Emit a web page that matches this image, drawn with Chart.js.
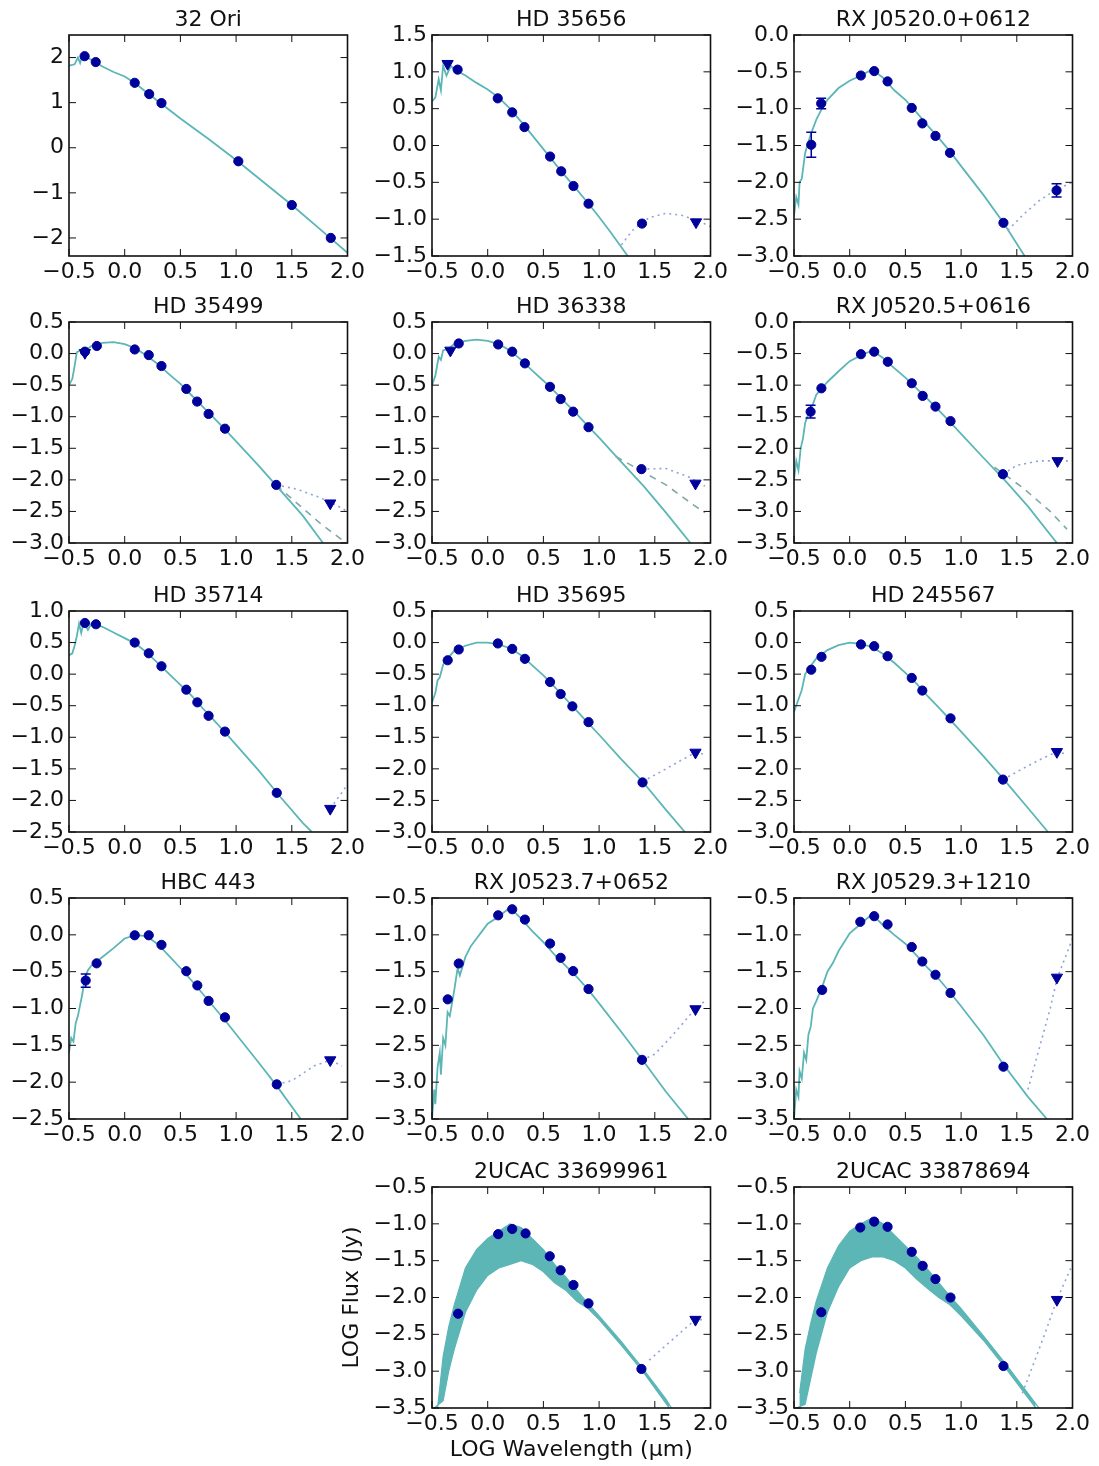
<!DOCTYPE html>
<html>
<head>
<meta charset="utf-8">
<script src="https://cdn.jsdelivr.net/npm/chart.js@4.4.1/dist/chart.umd.min.js"></script>
<style>
  body { margin: 0; background: #fff; }
  #fig { position: relative; width: 1099px; height: 1466px; overflow: hidden; }
  #fig canvas { position: absolute; }
</style>
</head>
<body>
<div id="fig"></div>
<script>
// one entry per panel (log wavelength in um, log flux in Jy)
const titles = ['32 Ori', 'HD 35656', 'RX J0520.0+0612', 'HD 35499', 'HD 36338', 'RX J0520.5+0616',
  'HD 35714', 'HD 35695', 'HD 245567', 'HBC 443', 'RX J0523.7+0652', 'RX J0529.3+1210',
  '2UCAC 33699961', '2UCAC 33878694'];

const xRange = [-0.5, 2.0];
const yRanges = [[-2.4, 2.5], [-1.5, 1.5], [-3.0, 0.0], [-3.0, 0.5], [-3.0, 0.5], [-3.5, 0.0],
  [-2.5, 1.0], [-3.0, 0.5], [-3.0, 0.5], [-2.5, 0.5], [-3.5, -0.5], [-3.5, -0.5], [-3.5, -0.5], [-3.5, -0.5]];
const yStep = [1, 0.5, 0.5, 0.5, 0.5, 0.5, 0.5, 0.5, 0.5, 0.5, 0.5, 0.5, 0.5, 0.5];

const photometry = [
  [[-0.36, 2.03], [-0.26, 1.90], [0.09, 1.44], [0.22, 1.19], [0.33, 0.99], [1.02, -0.30], [1.50, -1.27], [1.85, -2.0]],
  [[-0.27, 1.03], [0.09, 0.64], [0.22, 0.45], [0.33, 0.25], [0.56, -0.15], [0.66, -0.35], [0.77, -0.55], [0.905, -0.79], [1.385, -1.06]],
  [[-0.345, -1.49], [-0.256, -0.93], [0.10, -0.55], [0.22, -0.49], [0.34, -0.63], [0.557, -0.99], [0.652, -1.20], [0.77, -1.37], [0.90, -1.60], [1.38, -2.55], [1.857, -2.11]],
  [[-0.357, 0.03], [-0.25, 0.12], [0.09, 0.065], [0.216, -0.024], [0.33, -0.197], [0.553, -0.56], [0.65, -0.76], [0.753, -0.956], [0.90, -1.19], [1.36, -2.08]],
  [[-0.26, 0.16], [0.094, 0.144], [0.22, 0.03], [0.334, -0.155], [0.559, -0.527], [0.655, -0.72], [0.767, -0.92], [0.905, -1.166], [1.38, -1.83]],
  [[-0.351, -1.42], [-0.254, -1.05], [0.101, -0.51], [0.22, -0.47], [0.342, -0.63], [0.557, -0.97], [0.655, -1.17], [0.77, -1.34], [0.905, -1.57], [1.375, -2.41]],
  [[-0.357, 0.81], [-0.258, 0.79], [0.09, 0.50], [0.216, 0.33], [0.33, 0.125], [0.553, -0.246], [0.652, -0.447], [0.753, -0.66], [0.90, -0.91], [1.365, -1.88]],
  [[-0.359, -0.28], [-0.26, -0.11], [0.091, -0.014], [0.22, -0.10], [0.334, -0.258], [0.56, -0.624], [0.655, -0.815], [0.76, -1.01], [0.905, -1.26], [1.39, -2.215]],
  [[-0.345, -0.43], [-0.253, -0.226], [0.101, -0.03], [0.22, -0.057], [0.34, -0.216], [0.557, -0.56], [0.652, -0.76], [0.905, -1.2], [1.375, -2.17]],
  [[-0.35, -0.62], [-0.252, -0.387], [0.09, -0.006], [0.216, -0.006], [0.33, -0.136], [0.553, -0.494], [0.652, -0.687], [0.753, -0.897], [0.90, -1.12], [1.365, -2.03]],
  [[-0.359, -1.876], [-0.26, -1.389], [0.094, -0.735], [0.22, -0.653], [0.334, -0.793], [0.56, -1.118], [0.655, -1.312], [0.767, -1.492], [0.905, -1.736], [1.385, -2.697]],
  [[-0.247, -1.748], [0.095, -0.823], [0.22, -0.747], [0.34, -0.859], [0.557, -1.165], [0.652, -1.362], [0.77, -1.542], [0.905, -1.789], [1.38, -2.79]],
  [[-0.266, -2.22], [0.094, -1.14], [0.22, -1.07], [0.34, -1.13], [0.557, -1.44], [0.655, -1.63], [0.77, -1.83], [0.905, -2.08], [1.38, -2.97]],
  [[-0.255, -2.2], [0.095, -1.05], [0.22, -0.97], [0.34, -1.04], [0.557, -1.38], [0.655, -1.57], [0.77, -1.75], [0.905, -2.0], [1.38, -2.93]]
];

const upperLimits = [
  [],
  [[-0.36, 1.11], [1.87, -1.04]],
  [],
  [[-0.357, 0.013], [1.845, -2.37]],
  [[-0.335, 0.05], [1.865, -2.056]],
  [[1.866, -2.2]],
  [[1.845, -2.13]],
  [[1.865, -1.74]],
  [[1.86, -1.73]],
  [[1.845, -1.70]],
  [[1.865, -2.007]],
  [[1.86, -1.578]],
  [[1.865, -2.3]],
  [[1.86, -2.03]]
];

// [x, y, half-length]
const errorBars = [[], [], [[-0.345, -1.49, 0.17], [-0.256, -0.93, 0.07], [1.857, -2.11, 0.09]], [], [],
  [[-0.351, -1.42, 0.1]], [], [], [], [[-0.35, -0.62, 0.09]], [], [], [], []];

const photosphere = [
  [[-0.5, 1.82], [-0.45, 1.85], [-0.42, 2.0], [-0.4, 1.88], [-0.38, 2.05], [-0.3, 1.95], [-0.2, 1.8], [-0.1, 1.68], [0, 1.58], [0.1, 1.42], [0.2, 1.22], [0.3, 1.03], [0.5, 0.65], [0.75, 0.2], [1.0, -0.27], [1.25, -0.77], [1.5, -1.27], [1.75, -1.8], [2.0, -2.33]],
  [[-0.5, 0.6], [-0.47, 0.65], [-0.44, 0.9], [-0.42, 0.75], [-0.4, 1.08], [-0.37, 0.95], [-0.33, 1.08], [-0.3, 1.03], [-0.2, 0.95], [-0.1, 0.85], [0, 0.76], [0.1, 0.65], [0.2, 0.5], [0.33, 0.27], [0.5, -0.05], [0.65, -0.33], [0.8, -0.6], [0.9, -0.78], [1.0, -0.97], [1.1, -1.17], [1.257, -1.5]],
  [[-0.5, -2.45], [-0.48, -2.2], [-0.46, -2.3], [-0.45, -2.0], [-0.43, -1.95], [-0.4, -1.6], [-0.37, -1.45], [-0.35, -1.35], [-0.3, -1.15], [-0.25, -1.0], [-0.2, -0.88], [-0.1, -0.72], [0, -0.62], [0.1, -0.55], [0.2, -0.47], [0.3, -0.58], [0.4, -0.75], [0.5, -0.88], [0.6, -1.05], [0.7, -1.23], [0.8, -1.4], [0.9, -1.58], [1.0, -1.78], [1.2, -2.17], [1.38, -2.55], [1.57, -3.0]],
  [[-0.5, -0.5], [-0.47, -0.4], [-0.45, -0.2], [-0.43, 0.02], [-0.4, 0.05], [-0.35, 0.05], [-0.3, 0.12], [-0.2, 0.17], [-0.1, 0.18], [0, 0.15], [0.1, 0.08], [0.2, -0.04], [0.3, -0.17], [0.4, -0.33], [0.5, -0.48], [0.6, -0.66], [0.7, -0.84], [0.8, -1.02], [0.9, -1.2], [1.0, -1.39], [1.2, -1.77], [1.4, -2.17], [1.6, -2.57], [1.78, -3.0]],
  [[-0.5, -0.5], [-0.47, -0.35], [-0.44, -0.05], [-0.42, -0.1], [-0.4, 0.05], [-0.35, 0.08], [-0.3, 0.15], [-0.2, 0.2], [-0.1, 0.22], [0, 0.2], [0.1, 0.15], [0.2, 0.05], [0.3, -0.1], [0.4, -0.27], [0.5, -0.43], [0.6, -0.6], [0.7, -0.78], [0.8, -0.96], [0.9, -1.15], [1.0, -1.33], [1.2, -1.72], [1.4, -2.1], [1.6, -2.52], [1.82, -3.0]],
  [[-0.5, -2.5], [-0.48, -2.2], [-0.46, -2.35], [-0.44, -2.0], [-0.42, -1.85], [-0.4, -1.6], [-0.37, -1.45], [-0.33, -1.3], [-0.3, -1.15], [-0.25, -1.05], [-0.2, -0.95], [-0.1, -0.78], [0, -0.62], [0.1, -0.53], [0.2, -0.45], [0.3, -0.57], [0.4, -0.73], [0.5, -0.88], [0.6, -1.05], [0.7, -1.22], [0.8, -1.4], [0.9, -1.58], [1.0, -1.77], [1.2, -2.15], [1.4, -2.52], [1.6, -2.92], [1.86, -3.5]],
  [[-0.5, 0.3], [-0.47, 0.33], [-0.45, 0.45], [-0.43, 0.6], [-0.41, 0.8], [-0.39, 0.65], [-0.37, 0.82], [-0.33, 0.7], [-0.3, 0.8], [-0.2, 0.75], [-0.1, 0.66], [0, 0.57], [0.1, 0.48], [0.2, 0.34], [0.3, 0.17], [0.4, 0.0], [0.5, -0.17], [0.6, -0.34], [0.7, -0.54], [0.8, -0.73], [0.9, -0.92], [1.0, -1.12], [1.2, -1.52], [1.4, -1.95], [1.6, -2.36], [1.68, -2.5]],
  [[-0.5, -0.95], [-0.47, -0.8], [-0.45, -0.6], [-0.43, -0.55], [-0.4, -0.35], [-0.37, -0.27], [-0.3, -0.13], [-0.2, -0.05], [-0.1, 0.0], [0, 0.0], [0.1, -0.03], [0.2, -0.09], [0.3, -0.2], [0.4, -0.36], [0.5, -0.52], [0.6, -0.7], [0.7, -0.89], [0.8, -1.08], [0.9, -1.27], [1.0, -1.46], [1.2, -1.85], [1.39, -2.2], [1.6, -2.65], [1.77, -3.0]],
  [[-0.5, -1.1], [-0.48, -1.0], [-0.45, -0.85], [-0.43, -0.75], [-0.4, -0.5], [-0.35, -0.37], [-0.3, -0.25], [-0.2, -0.12], [-0.1, -0.04], [0, 0.0], [0.1, -0.02], [0.2, -0.07], [0.3, -0.18], [0.4, -0.32], [0.5, -0.48], [0.6, -0.65], [0.7, -0.85], [0.8, -1.03], [0.9, -1.22], [1.0, -1.41], [1.2, -1.8], [1.375, -2.15], [1.6, -2.62], [1.78, -3.0]],
  [[-0.5, -1.6], [-0.48, -1.4], [-0.46, -1.45], [-0.44, -1.2], [-0.42, -1.1], [-0.4, -0.95], [-0.38, -0.8], [-0.36, -0.6], [-0.33, -0.48], [-0.3, -0.42], [-0.2, -0.3], [-0.1, -0.18], [0, -0.05], [0.1, 0.0], [0.2, -0.02], [0.3, -0.13], [0.4, -0.29], [0.5, -0.45], [0.6, -0.62], [0.7, -0.8], [0.8, -0.98], [0.9, -1.16], [1.0, -1.35], [1.2, -1.73], [1.365, -2.05], [1.58, -2.5]],
  [[-0.5, -3.5], [-0.48, -3.1], [-0.47, -3.3], [-0.45, -2.8], [-0.43, -2.6], [-0.42, -2.9], [-0.4, -2.4], [-0.38, -2.5], [-0.36, -2.05], [-0.34, -2.1], [-0.3, -1.75], [-0.27, -1.45], [-0.25, -1.55], [-0.2, -1.3], [-0.15, -1.15], [-0.1, -1.05], [-0.05, -0.95], [0, -0.85], [0.1, -0.75], [0.2, -0.63], [0.3, -0.78], [0.4, -0.95], [0.5, -1.1], [0.6, -1.27], [0.7, -1.42], [0.8, -1.57], [0.9, -1.74], [1.0, -1.93], [1.2, -2.32], [1.4, -2.72], [1.6, -3.13], [1.8, -3.5]],
  [[-0.5, -3.5], [-0.48, -3.1], [-0.46, -3.2], [-0.45, -2.85], [-0.43, -2.95], [-0.41, -2.6], [-0.39, -2.7], [-0.37, -2.35], [-0.35, -2.25], [-0.33, -2.0], [-0.3, -1.9], [-0.25, -1.72], [-0.2, -1.5], [-0.15, -1.38], [-0.1, -1.22], [-0.05, -1.1], [0, -0.98], [0.1, -0.85], [0.2, -0.72], [0.3, -0.87], [0.4, -1.0], [0.5, -1.12], [0.55, -1.2], [0.6, -1.28], [0.7, -1.45], [0.8, -1.6], [0.9, -1.78], [1.0, -1.97], [1.2, -2.36], [1.38, -2.76], [1.6, -3.2], [1.77, -3.5]],
  [],
  []
];

// noisy model spectra of the two faintest stars, drawn as a band
const bandUpper = [[], [], [], [], [], [], [], [], [], [], [], [],
  [[-0.45, -3.5], [-0.4, -2.8], [-0.35, -2.4], [-0.3, -2.1], [-0.2, -1.6], [-0.1, -1.35], [0, -1.2], [0.1, -1.1], [0.2, -1.0], [0.3, -1.05], [0.4, -1.2], [0.5, -1.35], [0.6, -1.55], [0.7, -1.72], [0.8, -1.9], [0.9, -2.08], [1.0, -2.25], [1.2, -2.6], [1.4, -2.98], [1.6, -3.38], [1.65, -3.5]],
  [[-0.45, -3.3], [-0.4, -2.7], [-0.35, -2.35], [-0.3, -2.05], [-0.2, -1.6], [-0.1, -1.3], [0, -1.1], [0.1, -1.0], [0.2, -0.92], [0.3, -1.0], [0.4, -1.15], [0.5, -1.3], [0.6, -1.45], [0.7, -1.62], [0.8, -1.8], [0.9, -1.98], [1.0, -2.15], [1.2, -2.52], [1.4, -2.9], [1.6, -3.3], [1.7, -3.5]]
];
const bandLower = [[], [], [], [], [], [], [], [], [], [], [], [],
  [[-0.48, -3.5], [-0.4, -3.4], [-0.35, -3.0], [-0.3, -2.7], [-0.2, -2.2], [-0.1, -1.9], [0, -1.7], [0.1, -1.6], [0.2, -1.55], [0.3, -1.5], [0.4, -1.55], [0.5, -1.65], [0.6, -1.8], [0.7, -1.9], [0.8, -2.05], [0.9, -2.15], [1.0, -2.3], [1.2, -2.65], [1.4, -3.02], [1.63, -3.5]],
  [[-0.48, -3.5], [-0.4, -3.45], [-0.35, -3.1], [-0.3, -2.75], [-0.2, -2.2], [-0.1, -1.85], [0, -1.6], [0.1, -1.5], [0.2, -1.45], [0.3, -1.45], [0.4, -1.5], [0.5, -1.6], [0.6, -1.75], [0.7, -1.88], [0.8, -2.0], [0.9, -2.1], [1.0, -2.25], [1.2, -2.58], [1.4, -2.96], [1.67, -3.5]]
];

const diskDotted = [
  [],
  [[1.2, -1.35], [1.3, -1.15], [1.45, -0.98], [1.6, -0.92], [1.75, -0.95], [1.9, -1.03], [2.0, -1.1]],
  [[1.42, -2.65], [1.55, -2.45], [1.7, -2.25], [1.85, -2.1], [2.0, -2.0]],
  [[1.36, -2.08], [1.55, -2.15], [1.75, -2.28], [1.9, -2.4], [2.0, -2.5]],
  [[1.38, -1.83], [1.6, -1.82], [1.8, -1.95], [1.95, -2.1]],
  [[1.375, -2.41], [1.5, -2.27], [1.7, -2.2], [1.87, -2.2], [2.0, -2.2]],
  [[1.845, -2.13], [2.0, -1.75]],
  [[1.39, -2.2], [1.55, -2.05], [1.7, -1.9], [1.865, -1.74], [1.95, -1.77]],
  [[1.375, -2.17], [1.55, -2.0], [1.7, -1.86], [1.86, -1.73], [1.95, -1.77]],
  [[1.365, -2.03], [1.5, -1.98], [1.7, -1.78], [1.845, -1.7], [1.95, -1.78]],
  [[1.385, -2.7], [1.5, -2.62], [1.65, -2.38], [1.865, -2.0], [1.95, -1.9]],
  [[1.6, -3.1], [1.7, -2.55], [1.8, -2.0], [1.86, -1.6], [2.0, -1.05]],
  [[1.45, -2.85], [1.6, -2.65], [1.75, -2.45], [1.865, -2.3], [1.95, -2.3]],
  [[1.55, -3.3], [1.65, -2.9], [1.75, -2.5], [1.86, -2.03], [2.0, -1.55]]
];

const diskDashed = [[], [],  [],
  [[1.36, -2.08], [1.5, -2.3], [1.75, -2.68], [1.95, -2.95]],
  [[1.15, -1.63], [1.4, -1.88], [1.6, -2.08], [1.85, -2.4], [1.95, -2.52]],
  [[1.3, -2.3], [1.55, -2.62], [1.8, -3.0], [1.95, -3.28]],
  [], [], [], [], [], [], [], []];

const BLUE = '#00009b';
const TEAL = '#5cb6b6';
const DOTS = '#8fa4d8';
const DASH = '#7fa9a9';

Chart.defaults.font.family = "'DejaVu Sans', sans-serif";
Chart.defaults.font.size = 22;
Chart.defaults.color = '#111';

const plotLeft = [69, 432, 794];
const plotTop = [35, 322, 611, 898, 1187];
const PW = 279, PH = 221;
const cell = i => i < 12 ? [Math.floor(i / 3), i % 3] : [4, i - 11];

const fmt = (v, step) => {
  if (Math.abs(v) < 1e-9) v = 0;
  return (step >= 1 ? v.toFixed(0) : v.toFixed(1)).replace('-', '\u2212');
};
const pts = a => a.map(([x, y]) => ({x, y}));

// matplotlib-like box with inward ticks on all four sides
const frameTicks = {
  id: 'frameTicks',
  afterDatasetsDraw(chart) {
    const {ctx, chartArea: a, scales: {x, y}} = chart;
    ctx.save();
    ctx.strokeStyle = '#111';
    ctx.lineWidth = 1;
    ctx.beginPath();
    x.ticks.forEach(t => {
      const px = x.getPixelForValue(t.value);
      ctx.moveTo(px, a.bottom); ctx.lineTo(px, a.bottom - 7);
      ctx.moveTo(px, a.top); ctx.lineTo(px, a.top + 7);
    });
    y.ticks.forEach(t => {
      const py = y.getPixelForValue(t.value);
      ctx.moveTo(a.left, py); ctx.lineTo(a.left + 7, py);
      ctx.moveTo(a.right, py); ctx.lineTo(a.right - 7, py);
    });
    ctx.stroke();
    ctx.lineWidth = 1.6;
    ctx.strokeRect(a.left, a.top, a.width, a.height);
    ctx.restore();
  }
};

function errorBarPlugin(bars) {
  return {
    id: 'errorBars',
    afterDatasetsDraw(chart) {
      const {ctx, scales: {x, y}} = chart;
      ctx.save();
      ctx.strokeStyle = BLUE;
      ctx.lineWidth = 1.5;
      bars.forEach(([bx, by, e]) => {
        const px = x.getPixelForValue(bx);
        const top = y.getPixelForValue(by + e), bot = y.getPixelForValue(by - e);
        ctx.beginPath();
        ctx.moveTo(px, top); ctx.lineTo(px, bot);
        ctx.moveTo(px - 5, top); ctx.lineTo(px + 5, top);
        ctx.moveTo(px - 5, bot); ctx.lineTo(px + 5, bot);
        ctx.stroke();
      });
      ctx.restore();
    }
  };
}

const fig = document.getElementById('fig');

titles.forEach((title, i) => {
  const [r, c] = cell(i);
  const withLabels = i === 12;
  const gutL = withLabels ? 93 : 70;
  const gutB = withLabels ? 55 : 40;
  const padR = 20;

  const canvas = document.createElement('canvas');
  canvas.width = gutL + PW + padR;
  canvas.height = 36 + PH + gutB;
  canvas.style.left = (plotLeft[c] - gutL) + 'px';
  canvas.style.top = (plotTop[r] - 36) + 'px';
  fig.appendChild(canvas);

  new Chart(canvas, {
    type: 'scatter',
    data: {
      datasets: [
        { data: pts(photometry[i]), pointStyle: 'circle', pointRadius: 4.6,
          backgroundColor: BLUE, borderColor: BLUE },
        { data: pts(upperLimits[i]), pointStyle: 'triangle', pointRotation: 180, pointRadius: 6.5,
          backgroundColor: BLUE, borderColor: BLUE },
        { data: pts(diskDotted[i]), showLine: true, pointRadius: 0, borderColor: DOTS,
          borderWidth: 1.6, borderDash: [2, 4] },
        { data: pts(diskDashed[i]), showLine: true, pointRadius: 0, borderColor: DASH,
          borderWidth: 1.6, borderDash: [7, 6] },
        { data: pts(photosphere[i]), showLine: true, pointRadius: 0, borderColor: TEAL, borderWidth: 1.8 },
        { data: pts(bandUpper[i]), showLine: true, pointRadius: 0, borderColor: TEAL, borderWidth: 1.2 },
        { data: pts(bandLower[i]), showLine: true, pointRadius: 0, borderColor: TEAL, borderWidth: 1.2,
          fill: '-1', backgroundColor: TEAL }
      ]
    },
    options: {
      responsive: false,
      animation: false,
      events: [],
      layout: { padding: { left: 0, right: padR, top: 0, bottom: 0 } },
      plugins: {
        legend: { display: false },
        tooltip: { enabled: false },
        title: { display: true, fullSize: false, text: title, font: { size: 22, weight: 'normal' },
          padding: { top: 8, bottom: 1.6 }, color: '#111' }
      },
      scales: {
        x: {
          type: 'linear', min: xRange[0], max: xRange[1],
          grid: { display: false, drawTicks: false },
          border: { display: false },
          ticks: { stepSize: 0.5, autoSkip: false, maxRotation: 0, minRotation: 0, padding: 3,
            includeBounds: false, callback: v => fmt(v, 0.5) },
          title: { display: withLabels, text: 'LOG Wavelength (\u03bcm)', padding: 0, font: { size: 22 } },
          afterFit: s => { s.height = gutB; }
        },
        y: {
          type: 'linear', min: yRanges[i][0], max: yRanges[i][1],
          grid: { display: false, drawTicks: false },
          border: { display: false },
          ticks: { stepSize: yStep[i], autoSkip: false, padding: 5, includeBounds: false,
            callback: v => fmt(v, yStep[i]) },
          title: { display: withLabels, text: 'LOG Flux (Jy)', padding: 0, font: { size: 22 } },
          afterFit: s => { s.width = gutL; }
        }
      }
    },
    plugins: [frameTicks, errorBarPlugin(errorBars[i])]
  });
});
</script>
</body>
</html>
